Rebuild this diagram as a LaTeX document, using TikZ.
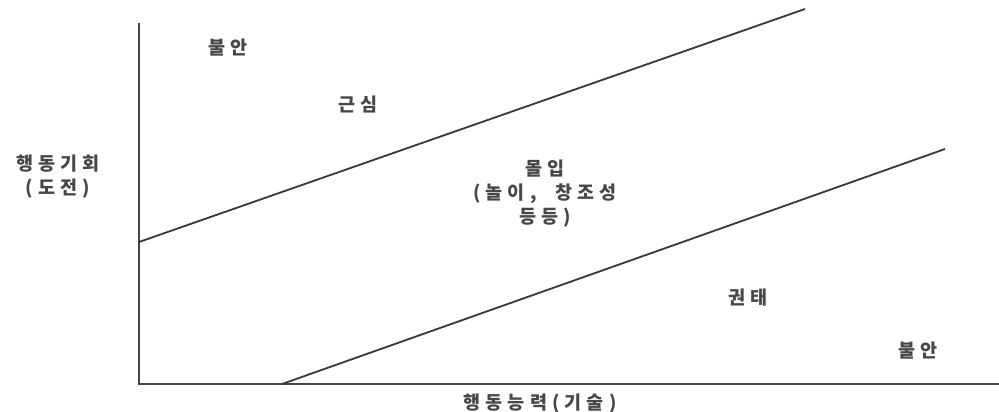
\documentclass[tikz,border=0pt]{standalone}
\usepackage{fontspec}
\newfontfamily\kr[LetterSpace=28]{Noto Sans CJK KR}
\begin{document}
\begin{tikzpicture}[x=1pt,y=-1pt,
  lbl/.style={font=\kr\bfseries\fontsize{18.5}{24}\selectfont, text=black!72, align=center, inner sep=0pt},
  axis/.style={draw=black!72, line width=2.2pt},
  band/.style={draw=black!78, line width=1.8pt}]
\useasboundingbox[fill=white] (0,0) rectangle (999,412);
\coordinate (top) at (139,23);
\coordinate (origin) at (139,384);
\coordinate (xend) at (999,384);
\coordinate (a1) at (139,242);
\coordinate (a2) at (805,9);
\coordinate (b1) at (282,384);
\coordinate (b2) at (945,149);
\draw[axis] (top) -- (origin) -- (xend);
\draw[band] (a1) -- (a2);
\draw[band] (b1) -- (b2);
\node[lbl] (anx1) at (228,48) {불안};
\node[lbl] (worry) at (358,104) {근심};
\node[lbl] (yaxis) at (58,177) {행동기회\\(도전)};
\node[lbl] (flow) at (545,194) {몰입\\(놀이,\ \ 창조성\\등등)};
\node[lbl] (bored) at (748,298) {권태};
\node[lbl] (anx2) at (918,351) {불안};
\node[lbl] (xaxis) at (540,404) {행동능력(기술)};
\end{tikzpicture}
\end{document}
